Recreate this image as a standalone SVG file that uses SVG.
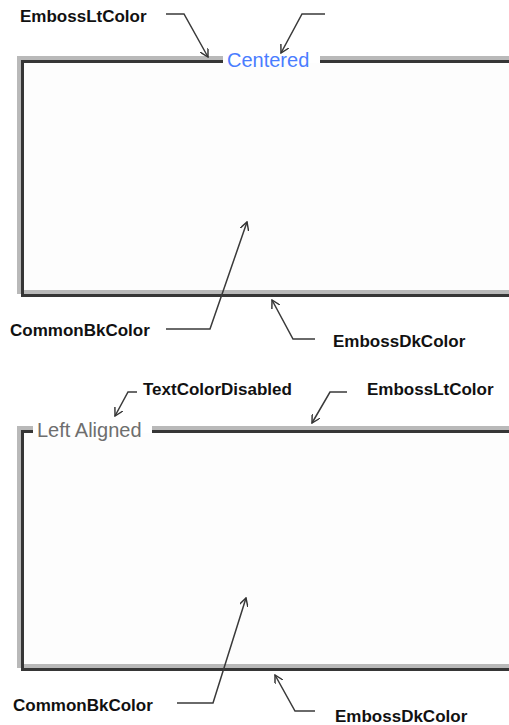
<svg xmlns="http://www.w3.org/2000/svg" width="509" height="725" viewBox="0 0 509 725">
  <defs>
    <marker id="arr" viewBox="0 0 10 10" refX="9" refY="5" markerWidth="9" markerHeight="9" markerUnits="userSpaceOnUse" orient="auto">
      <path d="M0,0 L9,5 L0,10" fill="none" stroke="#333" stroke-width="1.6"/>
    </marker>
  </defs>
  <style>
    .lt { fill: none; stroke: #b9b9b9; stroke-width: 4; }
    .dk { fill: none; stroke: #363636; stroke-width: 3; }
    .bg { fill: #fdfdfd; }
    .lbl { font-family: "Liberation Sans", Arial, sans-serif; font-weight: bold; font-size: 17px; fill: #111; }
    .cap { font-family: "Liberation Sans", Arial, sans-serif; font-size: 20px; }
    .con { fill: none; stroke: #3a3a3a; stroke-width: 1.5; marker-end: url(#arr); }
  </style>
  <rect width="509" height="725" fill="#ffffff"/>

  <g id="frame-centered">
    <rect class="bg" x="24" y="63" width="490" height="228"/>
    <path class="lt" d="M19,294 V58 H223 M320,58 H515 M17,292 H515"/>
    <path class="dk" d="M22.5,297 V61.5 H223 M320,61.5 H515 M21,295.5 H515"/>
    <text class="cap" x="227" y="66.5" fill="#4a7dff">Centered</text>
  </g>

  <g id="frame-left">
    <rect class="bg" x="24" y="433" width="490" height="232"/>
    <path class="lt" d="M19,668 V428 H33 M152,428 H515 M17,666 H515"/>
    <path class="dk" d="M22.5,671 V431.5 H33 M152,431.5 H515 M21,669.5 H515"/>
    <text class="cap" x="37" y="437" fill="#6e6e6e">Left Aligned</text>
  </g>

  <g id="labels">
    <text id="lbl-emboss-lt-1" class="lbl" x="20" y="22">EmbossLtColor</text>
    <text id="lbl-common-1" class="lbl" x="10" y="336">CommonBkColor</text>
    <text id="lbl-emboss-dk-1" class="lbl" x="333" y="347">EmbossDkColor</text>
    <text id="lbl-textdis" class="lbl" x="143" y="395">TextColorDisabled</text>
    <text id="lbl-emboss-lt-2" class="lbl" x="367" y="395">EmbossLtColor</text>
    <text id="lbl-common-2" class="lbl" x="13" y="711">CommonBkColor</text>
    <text id="lbl-emboss-dk-2" class="lbl" x="335" y="722">EmbossDkColor</text>
  </g>

  <g id="connectors">
    <path class="con" d="M166,14 L184,14 L208,57"/>
    <path class="con" d="M325,14 L302,14 L281,53"/>
    <path class="con" d="M166,329 L210,329 L247,222"/>
    <path class="con" d="M315,339 L293,339 L272,300"/>
    <path class="con" d="M137,392 L128,392 L115,416"/>
    <path class="con" d="M347,392 L330,392 L312,423"/>
    <path class="con" d="M177,703 L213,703 L246,598"/>
    <path class="con" d="M315,711 L295,711 L275,675"/>
  </g>
</svg>
